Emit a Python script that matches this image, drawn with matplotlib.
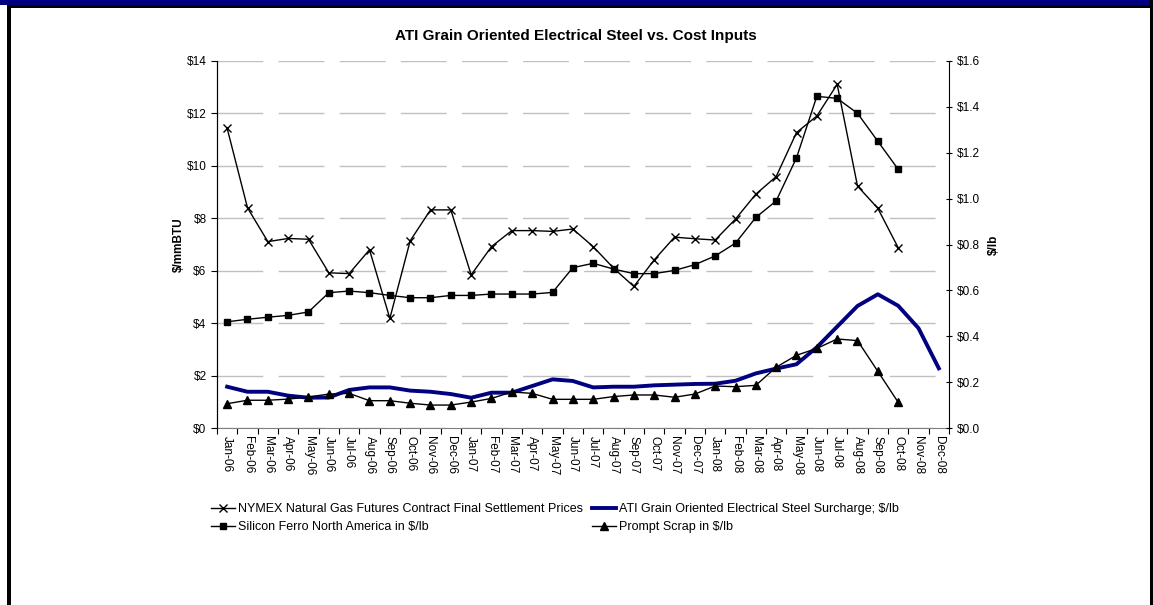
import matplotlib
matplotlib.use("Agg")
import matplotlib.pyplot as plt
from matplotlib.patches import Rectangle

plt.rcParams['font.family'] = ['Liberation Sans', 'DejaVu Sans']

# month labels, Jan-06 .. Dec-08
months = ['Jan', 'Feb', 'Mar', 'Apr', 'May', 'Jun', 'Jul', 'Aug', 'Sep', 'Oct', 'Nov', 'Dec']
labels = [m + '-' + y for y in ['06', '07', '08'] for m in months]

# NYMEX natural gas, $/mmBTU (left axis), Jan-06 .. Oct-08
nymex = [11.43, 8.40, 7.11, 7.23, 7.20, 5.92, 5.89, 6.80, 4.18, 7.14, 8.32, 8.32,
         5.84, 6.92, 7.53, 7.53, 7.50, 7.59, 6.92, 6.10, 5.40, 6.41, 7.28, 7.22,
         7.17, 7.97, 8.92, 9.59, 11.27, 11.90, 13.11, 9.23, 8.38, 6.88]

# Silicon ferro, $/lb (right axis), Jan-06 .. Oct-08
silicon = [0.463, 0.474, 0.483, 0.491, 0.506, 0.590, 0.597, 0.590, 0.578, 0.568, 0.568, 0.578,
           0.578, 0.584, 0.584, 0.584, 0.591, 0.699, 0.718, 0.693, 0.673, 0.673, 0.687, 0.712,
           0.750, 0.806, 0.918, 0.990, 1.178, 1.446, 1.437, 1.372, 1.250, 1.128]

# ATI surcharge, $/lb (right axis), Jan-06 .. Dec-08
ati = [0.180, 0.158, 0.158, 0.141, 0.132, 0.133, 0.166, 0.177, 0.177, 0.163, 0.158, 0.148,
       0.132, 0.154, 0.154, 0.183, 0.212, 0.205, 0.177, 0.180, 0.180, 0.186, 0.189, 0.192,
       0.193, 0.206, 0.238, 0.259, 0.278, 0.352, 0.442, 0.532, 0.583, 0.533, 0.435, 0.260]

# prompt scrap, $/lb (right axis), Jan-06 .. Oct-08
scrap = [0.106, 0.121, 0.121, 0.126, 0.135, 0.148, 0.151, 0.119, 0.119, 0.108, 0.100, 0.100,
         0.113, 0.129, 0.157, 0.151, 0.125, 0.125, 0.125, 0.137, 0.144, 0.144, 0.134, 0.148,
         0.183, 0.180, 0.186, 0.265, 0.317, 0.347, 0.388, 0.381, 0.247, 0.112]

W, H = 1153, 605
fig = plt.figure(figsize=(W / 100, H / 100), dpi=100)
ax = fig.add_axes([217 / W, 1 - 428 / H, (949 - 217) / W, (428 - 61) / H])
ax2 = ax.twinx()

# frame around the picture
fig.add_artist(Rectangle((0, 1 - 4.5 / H), 1, 4.5 / H, transform=fig.transFigure,
                         facecolor='#000080', edgecolor='none'))
fig.add_artist(Rectangle((7 / W, 1 - 7.5 / H), 1 - 7 / W, 3 / H, transform=fig.transFigure,
                         facecolor='black', edgecolor='none'))
fig.add_artist(Rectangle((7 / W, 0), 3.5 / W, 1 - 4.5 / H, transform=fig.transFigure,
                         facecolor='black', edgecolor='none'))
fig.add_artist(Rectangle((1150 / W, 0), 3 / W, 1, transform=fig.transFigure,
                         facecolor='black', edgecolor='none'))

x = list(range(len(labels)))

l1, = ax.plot(x[:len(nymex)], nymex, color='black', lw=1, marker='x', ms=6, mew=1,
              label='NYMEX Natural Gas Futures Contract Final Settlement Prices')
l3, = ax2.plot(x, ati, color='#000080', lw=2.8,
               label='ATI Grain Oriented Electrical Steel Surcharge; $/lb')
l2, = ax2.plot(x[:len(silicon)], silicon, color='black', lw=1, marker='s', ms=5,
               label='Silicon Ferro North America in $/lb')
l4, = ax2.plot(x[:len(scrap)], scrap, color='black', lw=1, marker='^', ms=5.5,
               label='Prompt Scrap in $/lb')

ax.set_xlim(-0.5, len(labels) - 0.5)
ax.set_ylim(0, 14)
ax2.set_ylim(0, 1.6)
ax.set_yticks(range(0, 15, 2))
ax.set_yticklabels(['$%d' % v for v in range(0, 15, 2)])
ticks2 = [i * 0.2 for i in range(9)]
ax2.set_yticks(ticks2)
ax2.set_yticklabels(['$%.1f' % v for v in ticks2])

# dashed grid: ~46 px dash, ~15 px gap
ax.grid(axis='y', color='#c0c0c0', lw=1, linestyle=(0, (33, 11)))
ax.set_axisbelow(True)

ax.set_xticks(x)
ax.set_xticklabels(labels, rotation=-90, fontsize=8.5)
ax.set_xticks([i - 0.5 for i in range(len(labels) + 1)], minor=True)
ax.tick_params(axis='x', which='major', length=0, pad=6)
ax.tick_params(axis='x', which='minor', length=4, direction='out', width=0.8)
ax.tick_params(axis='y', length=4, direction='out', labelsize=8.5, width=0.8)
ax2.tick_params(axis='y', length=4, direction='inout', labelsize=8.5, width=0.8)

for a in (ax, ax2):
    a.spines['top'].set_visible(False)
ax.spines['right'].set_visible(False)
ax.spines['bottom'].set_color('#808080')
ax2.spines['bottom'].set_visible(False)

ax.set_ylabel('$/mmBTU', fontsize=8.5, fontweight='bold', labelpad=1)
ax2.set_ylabel('$/lb', fontsize=8.5, fontweight='bold', rotation=90, labelpad=6)

fig.text(576 / W, 1 - 36 / H, 'ATI Grain Oriented Electrical Steel vs. Cost Inputs',
         ha='center', va='center', fontsize=11, fontweight='bold')

fig.legend([l1, l2, l3, l4], [l.get_label() for l in (l1, l2, l3, l4)],
           loc='upper left', bbox_to_anchor=(200 / W, 1 - 492 / H), ncol=2,
           frameon=False, fontsize=9, handlelength=1.9, handletextpad=0.25,
           columnspacing=0.7, labelspacing=0.45)

fig.savefig('out.png', dpi=100)
